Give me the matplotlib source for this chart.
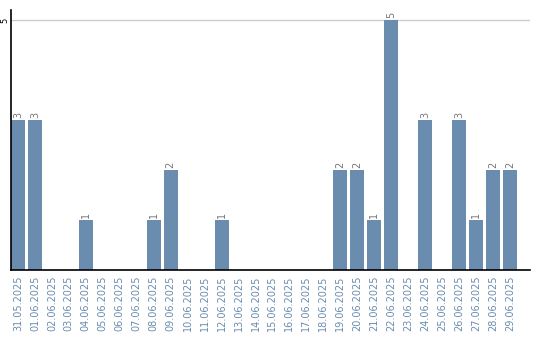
import numpy as np
import matplotlib.pyplot as plt

dates = ['31.05.2025', '01.06.2025', '02.06.2025', '03.06.2025', '04.06.2025',
         '05.06.2025', '06.06.2025', '07.06.2025', '08.06.2025', '09.06.2025',
         '10.06.2025', '11.06.2025', '12.06.2025', '13.06.2025', '14.06.2025',
         '15.06.2025', '16.06.2025', '17.06.2025', '18.06.2025', '19.06.2025',
         '20.06.2025', '21.06.2025', '22.06.2025', '23.06.2025', '24.06.2025',
         '25.06.2025', '26.06.2025', '27.06.2025', '28.06.2025', '29.06.2025']
counts = [3, 3, 0, 0, 1, 0, 0, 0, 1, 2,
          0, 0, 1, 0, 0, 0, 0, 0, 0, 2,
          2, 1, 5, 0, 3, 0, 3, 1, 2, 2]

bar_color = '#6a8caf'
ind = np.arange(len(dates))

fig = plt.figure(figsize=(5.4, 3.4), dpi=100)
ax = fig.add_axes([11/540, 70/340, 519/540, 260/340])

bars = ax.bar(ind, counts, width=0.82, color=bar_color, zorder=2)

ax.set_xlim(-0.41, 30.18)
ax.set_ylim(0, 5.2)

ax.set_yticks([5])
ax.set_yticklabels(['5'], rotation=90, va='center', fontsize=6)
ax.yaxis.grid(True, color='#cccccc', linewidth=1)
ax.tick_params(axis='y', length=0, pad=1)

ax.set_xticks(ind)
ax.set_xticklabels(dates, rotation=90, fontsize=7, color=bar_color)
ax.tick_params(axis='x', length=0, pad=4)

for s in ['top', 'right']:
    ax.spines[s].set_visible(False)
ax.spines['left'].set_linewidth(1.2)
ax.spines['bottom'].set_linewidth(1.2)

for rect, v in zip(bars, counts):
    if v > 0:
        ax.text(rect.get_x() + rect.get_width() / 2, v + 0.04, str(v),
                rotation=90, ha='center', va='bottom', fontsize=7, color='#777777')

fig.savefig('out.png', dpi=100)
